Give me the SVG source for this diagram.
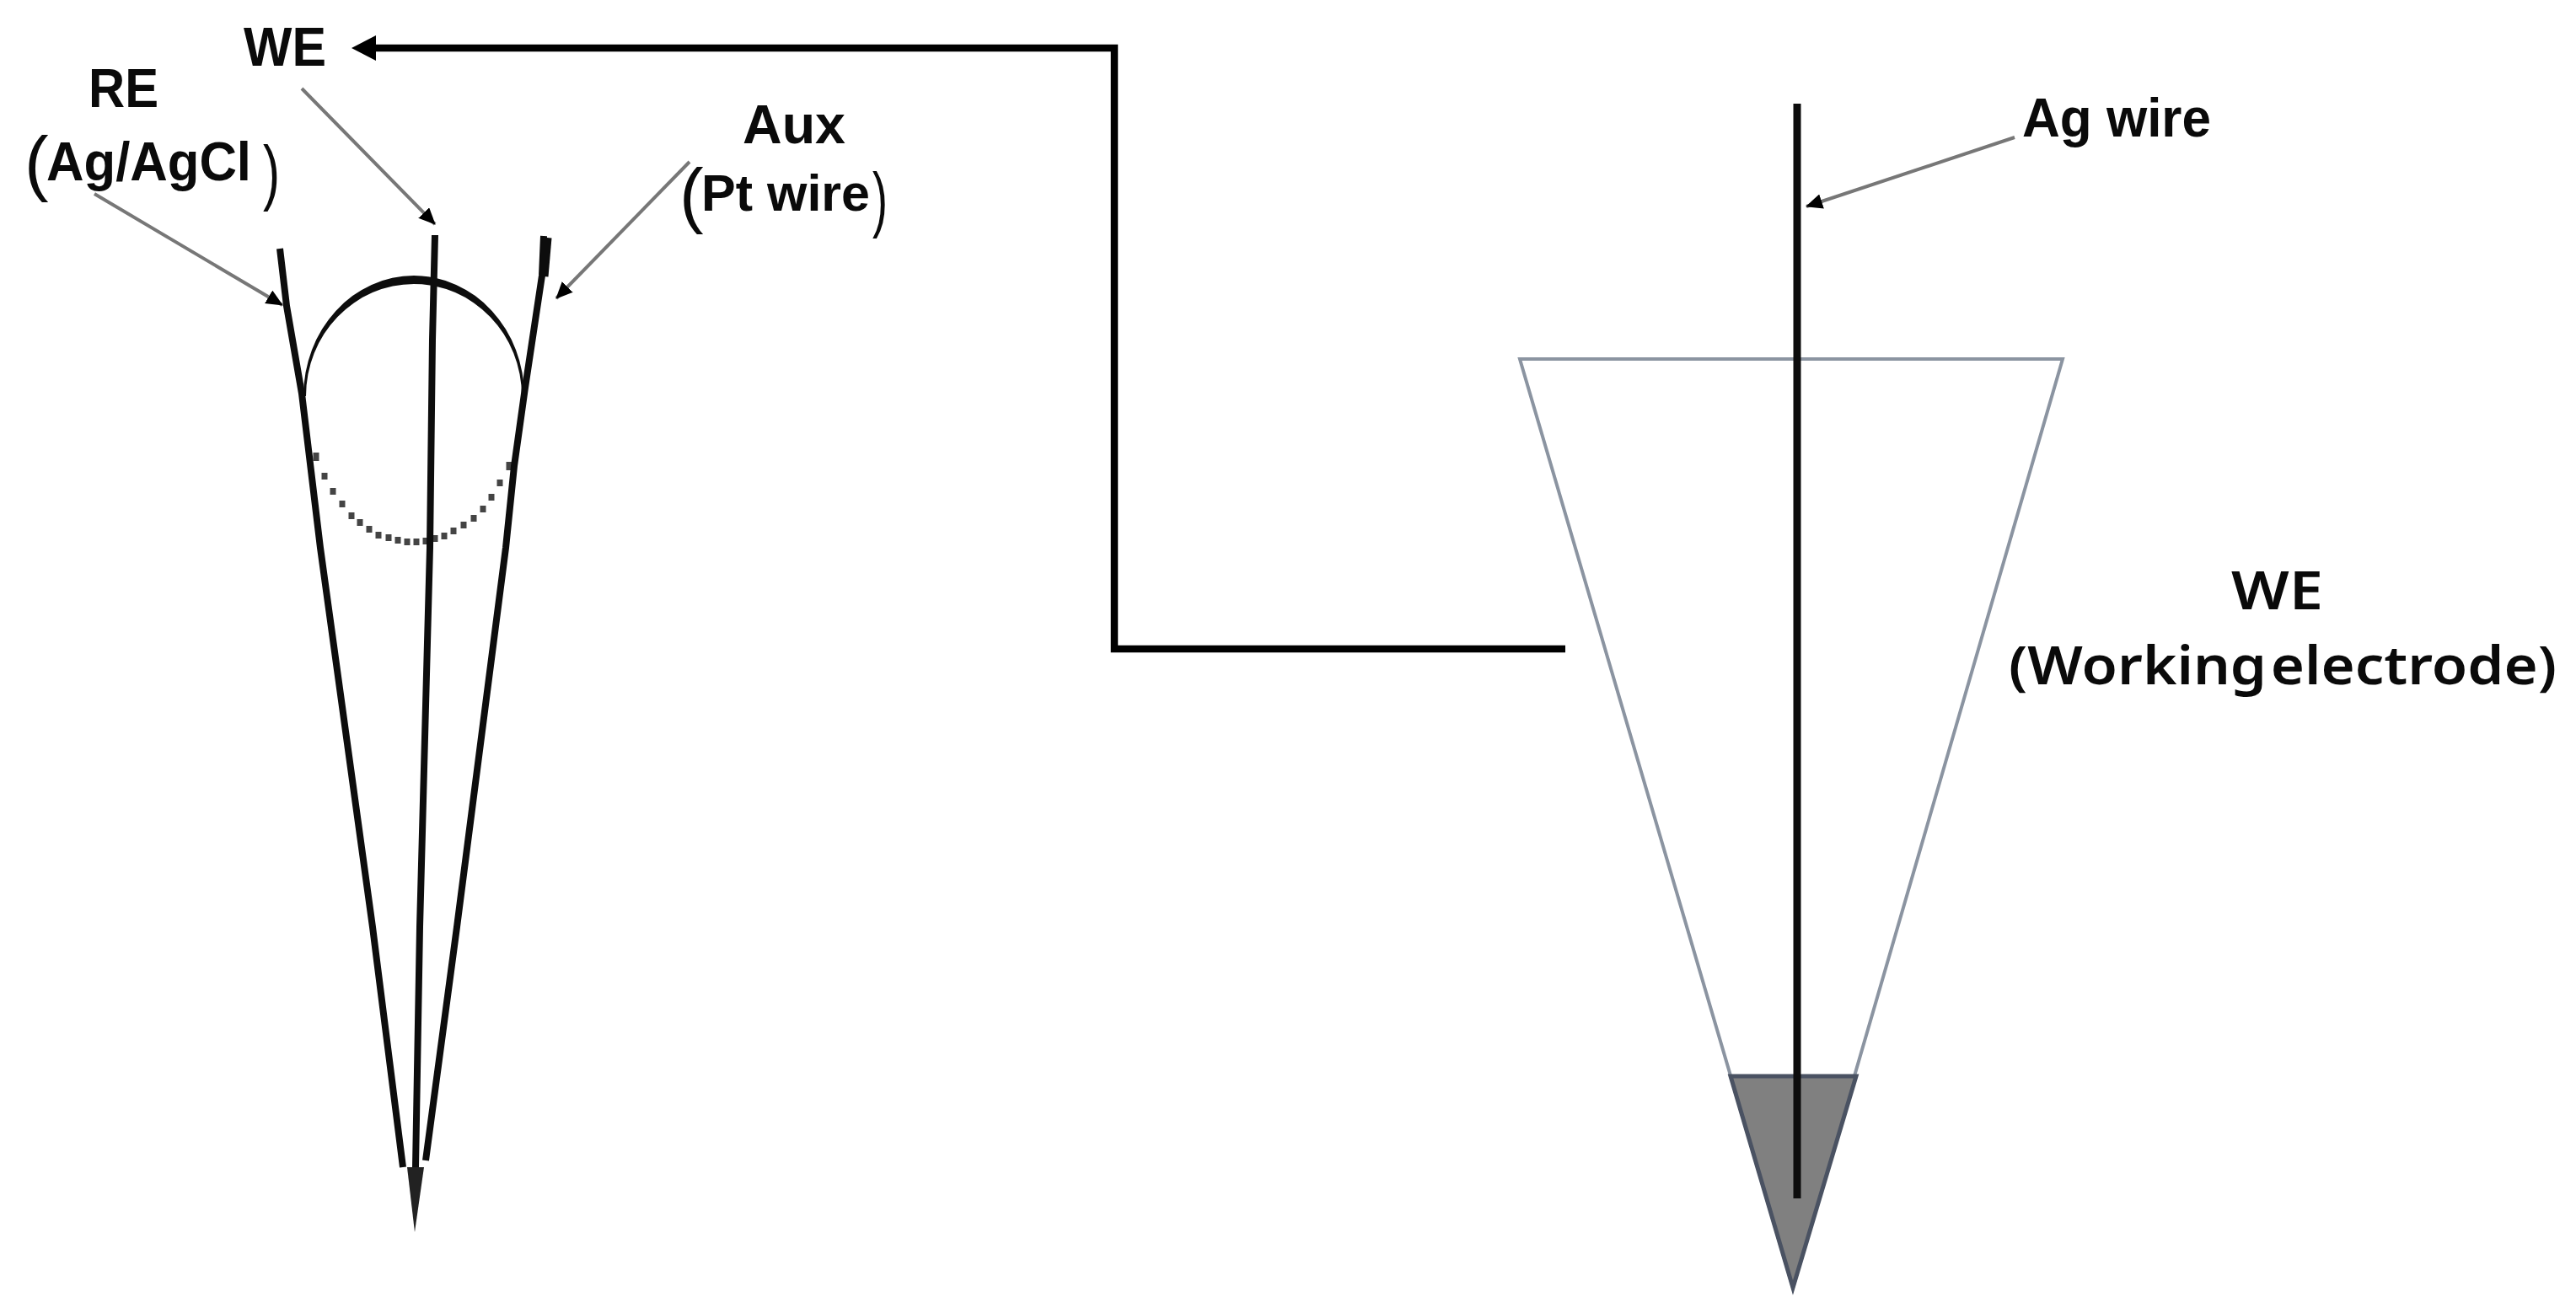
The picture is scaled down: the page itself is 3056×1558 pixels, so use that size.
<svg xmlns="http://www.w3.org/2000/svg" width="3056" height="1558" viewBox="0 0 3056 1558">
  <style>
    text { font-family: "Liberation Sans", Arial, sans-serif; font-weight: 700; font-size: 65px; fill: #0a0a0a; }
    .paren { font-weight: 400; font-size: 86px; }
    .wide { font-family: "Noto Sans", "Liberation Sans", sans-serif; font-size: 63px; font-weight: 600; word-spacing: -12px; }
    .wire { fill: none; stroke: #0d0d0d; stroke-width: 8; stroke-linecap: butt; stroke-linejoin: round; }
    .leader { fill: none; stroke: #777; stroke-width: 4; marker-end: url(#small); }
    .main { fill: none; stroke: #000; stroke-width: 8.5; stroke-linejoin: miter; }
    .cone { fill: none; stroke: #8b94a1; stroke-width: 4; stroke-linejoin: miter; }
  </style>
  <defs>
    <marker id="small" markerUnits="userSpaceOnUse" markerWidth="20" markerHeight="18" viewBox="0 0 20 18" refX="19" refY="9" orient="auto">
      <path d="M0,0 L20,9 L0,18 Z" fill="#000"/>
    </marker>
    <marker id="big" markerUnits="userSpaceOnUse" markerWidth="29" markerHeight="30" viewBox="0 0 29 30" refX="19" refY="15" orient="auto">
      <path d="M0,0 L29,15 L0,30 Z" fill="#000"/>
    </marker>
  </defs>
  <rect width="3056" height="1558" fill="#fff"/>

  <g id="cell">
    <path d="M360,470 A131,143 0 0 1 622,470 L619,470 A128,133 0 0 0 363,470 Z" fill="#0d0d0d"/>
    <path d="M375,537v10M385,561v8M395,579v8M406,594v8M417,608v8M427,616v8M438,624v8M449,631v8M461,634v8M472,637v8M483,639v8M494,639v8M505,638v8M516,635v8M527,632v8M538,626v8M550,619v8M562,611v8M573,600v8M583,586v8M593,569v8M604,548v10" fill="none" stroke="#444" stroke-width="7"/>
    <path class="wire" d="M332,295 L340,363 L358,467 L380,650 L442,1100 L478,1385"/>
    <path class="wire" d="M516,279 L513,403 L510,650 L498,1100 L493,1385"/>
    <path class="wire" d="M645,280 L643,327 L623,460 L610,553 L600,650 L542,1100 L505,1377"/>
    <path class="wire" d="M649,282 L645,328" style="stroke-width:11"/>
    <polygon points="483,1385 503,1385 492,1462" fill="#222"/>
  </g>

  <g id="label-we-top"><text x="289" y="78" textLength="98" lengthAdjust="spacingAndGlyphs">WE</text></g>
  <g id="label-re">
    <text x="105" y="127" textLength="83" lengthAdjust="spacingAndGlyphs">RE</text>
    <text><tspan class="paren" x="29" y="222">(</tspan><tspan x="55" y="214" textLength="243" lengthAdjust="spacingAndGlyphs">Ag/AgCl</tspan><tspan class="paren" x="312" y="233" textLength="20" lengthAdjust="spacingAndGlyphs">)</tspan></text>
  </g>
  <g id="label-aux">
    <text x="881" y="170" textLength="122" lengthAdjust="spacingAndGlyphs">Aux</text>
    <text><tspan class="paren" x="806" y="260">(</tspan><tspan x="832" y="250" font-size="62" textLength="200" lengthAdjust="spacingAndGlyphs">Pt wire</tspan><tspan class="paren" x="1035" y="265" textLength="18" lengthAdjust="spacingAndGlyphs">)</tspan></text>
  </g>

  <g id="working-electrode">
    <polygon class="cone" points="1803,426 2447,426 2127,1528"/>
    <polygon points="2053,1277 2202,1277 2127,1528" fill="#808080" stroke="#4a5262" stroke-width="5" stroke-linejoin="miter"/>
    <line x1="2132" y1="123" x2="2132" y2="1422" stroke="#0d0d0d" stroke-width="9"/>
  </g>
  <g id="label-ag-wire"><text x="2399" y="162" textLength="224" lengthAdjust="spacingAndGlyphs">Ag wire</text></g>
  <g id="label-we-right">
    <text class="wide" x="2647" y="723" textLength="109" lengthAdjust="spacingAndGlyphs">WE</text>
    <text class="wide" x="2383" y="812" textLength="650" lengthAdjust="spacingAndGlyphs">(Working electrode)</text>
  </g>

  <g id="connectors">
    <path class="main" d="M1857,770 H1322 V57 H427" marker-end="url(#big)"/>
    <line class="leader" x1="358" y1="105" x2="516" y2="266"/>
    <line class="leader" x1="112" y1="230" x2="335" y2="362"/>
    <line class="leader" x1="818" y1="192" x2="660" y2="354"/>
    <line class="leader" x1="2390" y1="163" x2="2143" y2="245"/>
  </g>
</svg>
